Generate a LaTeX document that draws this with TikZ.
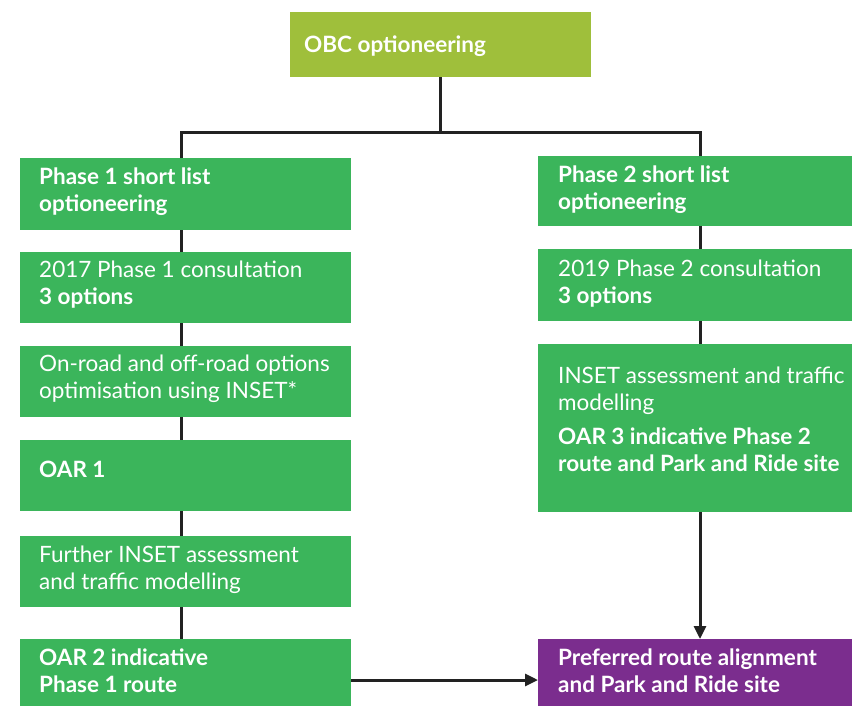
\documentclass[tikz,border=0pt]{standalone}
\usepackage{fontspec}
\setmainfont{Lato}
\usetikzlibrary{arrows.meta}
\definecolor{limeg}{RGB}{159,191,59}
\definecolor{boxg}{RGB}{59,181,91}
\definecolor{purp}{RGB}{123,45,142}
\definecolor{linec}{RGB}{34,34,34}
\newcommand\twolines[2]{\vtop{\hbox{#1}\hbox{#2}}}
\tikzset{
  gbox/.style={fill=boxg, draw=none, inner sep=0pt, anchor=north west},
  txt/.style={anchor=base west, inner sep=0pt, text=white, font=\fontsize{22.5}{27.5}\selectfont},
  conn/.style={draw=linec, line width=3pt},
  arr/.style={conn, -{Triangle[length=13pt,width=12pt]}},
}
\begin{document}
\begin{tikzpicture}[x=1pt,y=-1pt]
\useasboundingbox (0,0) rectangle (852,705);
% boxes
\node[gbox, fill=limeg, minimum width=301pt, minimum height=65pt] (top) at (290,12) {};
\node[gbox, minimum width=331pt, minimum height=72pt] (l1) at (20,158) {};
\node[gbox, minimum width=331pt, minimum height=71pt] (l2) at (20,252) {};
\node[gbox, minimum width=331pt, minimum height=71pt] (l3) at (20,346) {};
\node[gbox, minimum width=331pt, minimum height=71pt] (l4) at (20,440) {};
\node[gbox, minimum width=331pt, minimum height=71pt] (l5) at (20,536) {};
\node[gbox, minimum width=331pt, minimum height=70pt] (l6) at (20,639) {};
\node[gbox, minimum width=320pt, minimum height=70pt] (r1) at (538,156) {};
\node[gbox, minimum width=320pt, minimum height=72pt] (r2) at (538,249) {};
\node[gbox, minimum width=320pt, minimum height=168pt] (r3) at (538,344) {};
\node[gbox, fill=purp, minimum width=320pt, minimum height=70pt] (pr) at (538,639) {};
% texts
\node[txt] (ttop) at (304,52) {\bfseries OBC optioneering};
\node[txt] (tl1) at (39,184) {\bfseries\twolines{Phase 1 short list}{optioneering}};
\node[txt] (tl2) at (39,277) {\twolines{2017 Phase 1 consultation}{\bfseries 3 options}};
\node[txt] (tl3) at (39,371) {\twolines{On-road and off-road options}{optimisation using INSET*}};
\node[txt] (tl4) at (39,477) {\bfseries OAR 1};
\node[txt] (tl5) at (39,562) {\twolines{Further INSET assessment}{and traffic modelling}};
\node[txt] (tl6) at (39,665) {\bfseries\twolines{OAR 2 indicative}{Phase 1 route}};
\node[txt] (tr1) at (558,182) {\bfseries\twolines{Phase 2 short list}{optioneering}};
\node[txt] (tr2) at (558,276) {\twolines{2019 Phase 2 consultation}{\bfseries 3 options}};
\node[txt] (tr3a) at (558,383) {\twolines{INSET assessment and traffic}{modelling}};
\node[txt] (tr3b) at (558,444) {\bfseries\twolines{OAR 3 indicative Phase 2}{route and Park and Ride site}};
\node[txt] (tpr) at (558,665) {\bfseries\twolines{Preferred route alignment}{and Park and Ride site}};
% connectors
\coordinate (jn) at (top.south |- 0,132);
\coordinate (jl) at (181,132);
\coordinate (jr) at (700,132);
\draw[conn] (top.south) -- (jn);
\draw[conn, line join=miter] (jl |- l1.north) -- (jl) -- (jr) -- (jr |- r1.north);
\draw[conn] (l1.south -| jl) -- (l2.north -| jl);
\draw[conn] (l2.south -| jl) -- (l3.north -| jl);
\draw[conn] (l3.south -| jl) -- (l4.north -| jl);
\draw[conn] (l4.south -| jl) -- (l5.north -| jl);
\draw[conn] (l5.south -| jl) -- (l6.north -| jl);
\draw[conn] (r1.south -| jr) -- (r2.north -| jr);
\draw[conn] (r2.south -| jr) -- (r3.north -| jr);
\draw[arr] (r3.south -| jr) -- (pr.north -| jr);
\draw[arr] (l6.east |- 0,680) -- (pr.west |- 0,680);
\end{tikzpicture}
\end{document}
